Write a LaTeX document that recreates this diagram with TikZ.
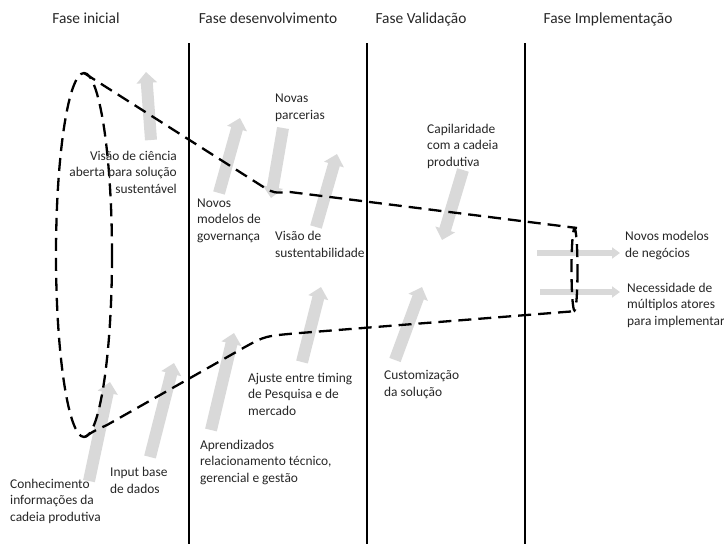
\documentclass[tikz,border=0pt]{standalone}
\usepackage{fontspec}
\setmainfont{Carlito}
\usetikzlibrary{arrows.meta}
\tikzset{
  lbl/.style={font=\fontsize{13.4}{16.5}\selectfont, text=black!85, align=left, inner sep=0pt, anchor=base west},
  lblr/.style={lbl, align=right, anchor=base east},
  hdr/.style={font=\fontsize{15.4}{18}\selectfont, text=black!85, inner sep=0pt, anchor=base},
  garrow/.style={draw=black!15, line width=12pt, -{Triangle[width=20pt,length=11pt]}},
  harrow/.style={draw=black!15, line width=5.5pt, -{Triangle[width=11pt,length=8pt]}},
  dline/.style={line width=2.3pt, dash pattern=on 13pt off 7pt},
  phase/.style={line width=2pt}
}
\begin{document}
\begin{tikzpicture}[x=1pt,y=-1pt]
\useasboundingbox (0,0) rectangle (724,544);
% arrow end points
\coordinate (a1t) at (151,140); \coordinate (a1h) at (146,72);
\coordinate (a2t) at (219,193); \coordinate (a2h) at (240,118);
\coordinate (a3t) at (283,128); \coordinate (a3h) at (271,198);
\coordinate (a4t) at (316,227); \coordinate (a4h) at (337,154);
\coordinate (a5t) at (463,170); \coordinate (a5h) at (442,240);
\coordinate (a6t) at (537,253); \coordinate (a6h) at (620,253);
\coordinate (a7t) at (540,292); \coordinate (a7h) at (620,292);
\coordinate (a8t) at (395,360); \coordinate (a8h) at (422,287);
\coordinate (a9t) at (302,362); \coordinate (a9h) at (321,287);
\coordinate (a10t) at (211,430); \coordinate (a10h) at (234,333);
\coordinate (a11t) at (150,457); \coordinate (a11h) at (174,363);
\coordinate (a12t) at (89,481); \coordinate (a12h) at (110,382);
\foreach \i in {1,2,3,4,5,8,9,10,11,12} {\draw[garrow] (a\i t) -- (a\i h);}
\draw[harrow] (a6t) -- (a6h);
\draw[harrow] (a7t) -- (a7h);
% funnel
\coordinate (ctop) at (84,73);
\coordinate (cbot) at (85,437);
\coordinate (etop) at (577,228);
\coordinate (ebot) at (577,311);
\draw[dline] (84,255) ellipse [x radius=28, y radius=182];
\draw[dline] (574.5,269.5) ellipse [x radius=3, y radius=41];
\draw[dline] (ctop) -- (265,188) .. controls (274,193) .. (290,192) -- (etop);
\draw[dline] (cbot) .. controls (92,432) .. (107,425) -- (245,347) .. controls (265,336) .. (300,333) -- (ebot);
% phase separators
\coordinate (v1a) at (189,43); \coordinate (v1b) at (189,544);
\coordinate (v2a) at (367,43); \coordinate (v2b) at (367,544);
\coordinate (v3a) at (525,43); \coordinate (v3b) at (525,544);
\draw[phase] (v1a) -- (v1b);
\draw[phase] (v2a) -- (v2b);
\draw[phase] (v3a) -- (v3b);
% headers
\node[hdr] (h1) at (86,23) {Fase inicial};
\node[hdr] (h2) at (268,23) {Fase desenvolvimento};
\node[hdr] (h3) at (421,23) {Fase Validação};
\node[hdr] (h4) at (608,23) {Fase Implementação};
% labels (anchored at the baseline of the last line)
\node[lblr] (t1) at (177,193) {Visão de ciência\\aberta para solução\\sustentável};
\node[lbl] (t2) at (275,119) {Novas\\parcerias};
\node[lbl] (t3) at (197,240) {Novos\\modelos de\\governança};
\node[lbl] (t4) at (275,257) {Visão de\\sustentabilidade};
\node[lbl] (t5) at (427,166) {Capilaridade\\com a cadeia\\produtiva};
\node[lbl] (t6) at (625,257) {Novos modelos\\de negócios};
\node[lbl] (t7) at (627,325) {Necessidade de\\múltiplos atores\\para implementar};
\node[lbl] (t8) at (384,396) {Customização\\da solução};
\node[lbl] (t9) at (248,415) {Ajuste entre timing\\de Pesquisa e de\\mercado};
\node[lbl] (t10) at (200,482) {Aprendizados\\relacionamento técnico,\\gerencial e gestão};
\node[lbl] (t11) at (110,493) {Input base\\de dados};
\node[lbl] (t12) at (10,521) {Conhecimento\\informações da\\cadeia produtiva};
\end{tikzpicture}
\end{document}
